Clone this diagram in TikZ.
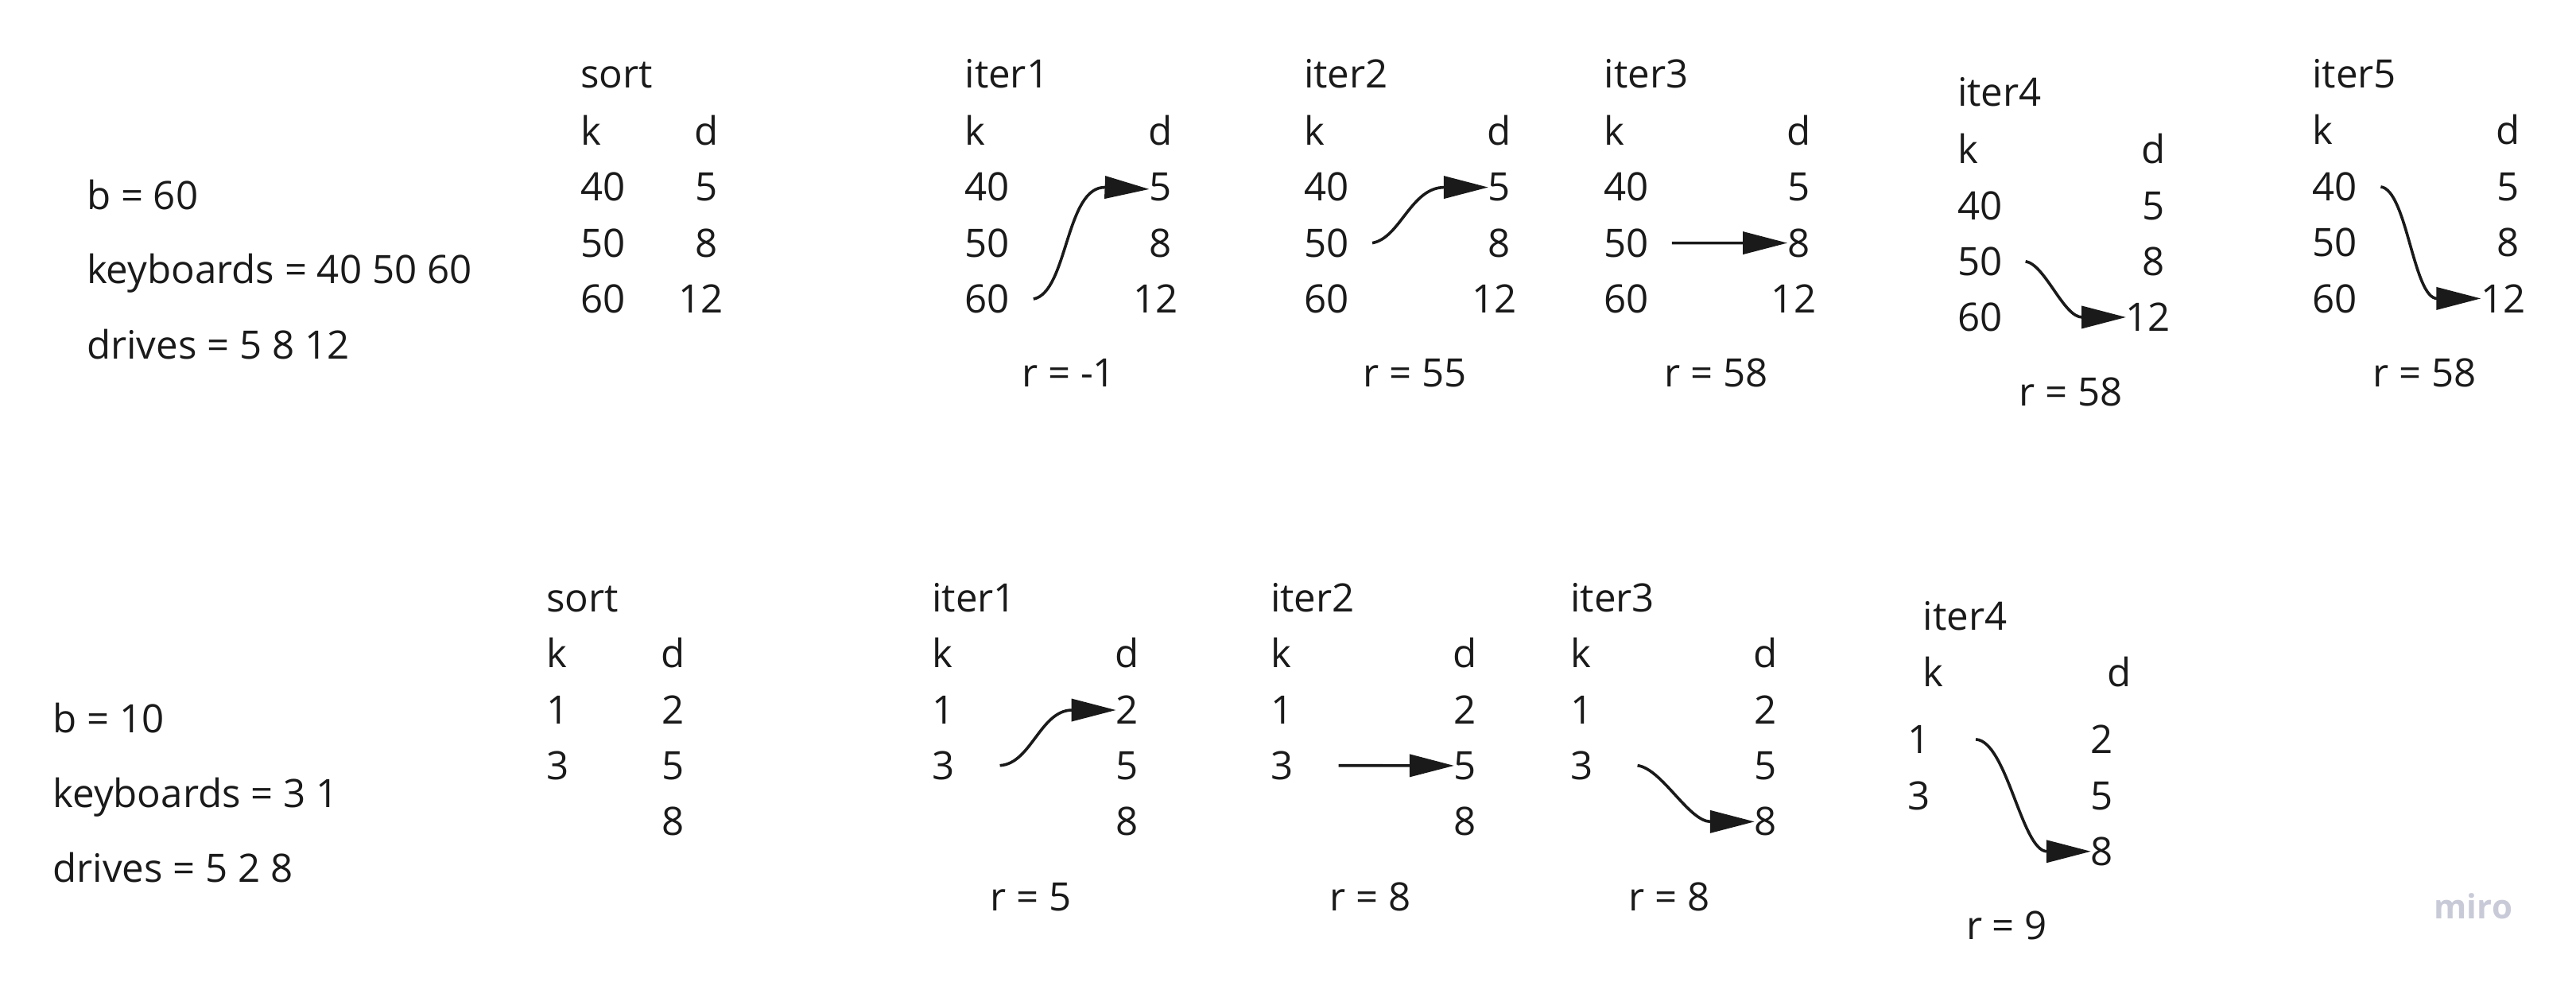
\documentclass[tikz,border=0pt]{standalone}
\usepackage{fontspec}
\setmainfont{Open Sans}
\usetikzlibrary{arrows.meta,calc}
\definecolor{txt}{RGB}{26,26,26}
\definecolor{wmark}{RGB}{201,202,216}
\begin{document}
\begin{tikzpicture}[x=0.5166pt,y=-0.5166pt,
  every node/.style={inner sep=0pt, outer sep=0pt, text=txt, font=\fontsize{12.3pt}{14pt}\selectfont},
  lt/.style={anchor=base west},
  ct/.style={anchor=base},
  conn/.style={draw=txt, line width=0.9pt, -{Triangle[length=14pt,width=7pt]}},
  ext/.style={shorten >=-14pt}]
\useasboundingbox (0,0) rectangle (1568,597.2);

% ---------- top section ----------
\node[lt] (Ab)  at (52.8,127.4) {b = 60};
\node[lt] (Akb) at (52.8,172.7) {keyboards = 40 50 60};
\node[lt] (Adr) at (52.8,218.6) {drives = 5 8 12};

% sort
\node[lt] (Ast)  at (353.3,53.6)  {sort};
\node[lt] (Ask)  at (353.3,88.2)  {k};
\node[ct] (Asd)  at (429.8,88.2)  {d};
\node[lt] (Ask1) at (353.3,122.4) {40};
\node[lt] (Ask2) at (353.3,156.4) {50};
\node[lt] (Ask3) at (353.3,190.5) {60};
\node[ct] (Asd1) at (429.8,122.4) {5};
\node[ct] (Asd2) at (429.8,156.4) {8};
\node[ct] (Asd3) at (426.8,190.5) {12};

% iter1
\node[lt] (A1t)  at (587.3,53.6)  {iter1};
\node[lt] (A1k)  at (587.3,88.2)  {k};
\node[ct] (A1d)  at (706.3,88.2)  {d};
\node[lt] (A1k1) at (587.3,122.4) {40};
\node[lt] (A1k2) at (587.3,156.4) {50};
\node[lt] (A1k3) at (587.3,190.5) {60};
\node[ct] (A1d1) at (706.3,122.4) {5};
\node[ct] (A1d2) at (706.3,156.4) {8};
\node[ct] (A1d3) at (703.3,190.5) {12};
\node[ct] (A1r)  at (650.5,235.3) {r = -1};

% iter2
\node[lt] (A2t)  at (793.7,53.6)  {iter2};
\node[lt] (A2k)  at (793.7,88.2)  {k};
\node[ct] (A2d)  at (912.6,88.2)  {d};
\node[lt] (A2k1) at (793.7,122.4) {40};
\node[lt] (A2k2) at (793.7,156.4) {50};
\node[lt] (A2k3) at (793.7,190.5) {60};
\node[ct] (A2d1) at (912.6,122.4) {5};
\node[ct] (A2d2) at (912.6,156.4) {8};
\node[ct] (A2d3) at (909.6,190.5) {12};
\node[ct] (A2r)  at (861.4,235.3) {r = 55};

% iter3
\node[lt] (A3t)  at (976.4,53.6)  {iter3};
\node[lt] (A3k)  at (976.4,88.2)  {k};
\node[ct] (A3d)  at (1094.8,88.2) {d};
\node[lt] (A3k1) at (976.4,122.4) {40};
\node[lt] (A3k2) at (976.4,156.4) {50};
\node[lt] (A3k3) at (976.4,190.5) {60};
\node[ct] (A3d1) at (1094.8,122.4) {5};
\node[ct] (A3d2) at (1094.8,156.4) {8};
\node[ct] (A3d3) at (1091.8,190.5) {12};
\node[ct] (A3r)  at (1044.5,235.3) {r = 58};

% iter4
\node[lt] (A4t)  at (1191.5,64.8)  {iter4};
\node[lt] (A4k)  at (1191.5,99.4)  {k};
\node[ct] (A4d)  at (1310.6,99.4)  {d};
\node[lt] (A4k1) at (1191.5,133.6) {40};
\node[lt] (A4k2) at (1191.5,167.6) {50};
\node[lt] (A4k3) at (1191.5,201.7) {60};
\node[ct] (A4d1) at (1310.6,133.6) {5};
\node[ct] (A4d2) at (1310.6,167.6) {8};
\node[ct] (A4d3) at (1307.6,201.7) {12};
\node[ct] (A4r)  at (1260.5,247.2) {r = 58};

% iter5
\node[lt] (A5t)  at (1407.5,53.6)  {iter5};
\node[lt] (A5k)  at (1407.5,88.0)  {k};
\node[ct] (A5d)  at (1526.6,88.0)  {d};
\node[lt] (A5k1) at (1407.5,122.2) {40};
\node[lt] (A5k2) at (1407.5,156.2) {50};
\node[lt] (A5k3) at (1407.5,190.3) {60};
\node[ct] (A5d1) at (1526.6,122.2) {5};
\node[ct] (A5d2) at (1526.6,156.2) {8};
\node[ct] (A5d3) at (1523.6,190.3) {12};
\node[ct] (A5r)  at (1476.0,235.3) {r = 58};

% top arrows
\coordinate (A1s) at ($(A1k3.east)+(14.5,0)$);
\coordinate (A1e) at ($(A1d1.west)+(-27,0)$);
\draw[conn,ext] (A1s) .. controls ($(A1s)+(21,-4)$) and ($(A1e)+(-24,-1)$) .. (A1e);

\coordinate (A2s) at ($(A2k2.east)+(14.4,0)$);
\coordinate (A2e) at ($(A2d1.west)+(-27,0)$);
\draw[conn,ext] (A2s) .. controls ($(A2s)+(17,-3)$) and ($(A2e)+(-20,0)$) .. (A2e);

\coordinate (A3s) at ($(A3k2.east)+(14.1,0)$);
\draw[conn] (A3s) -- (A3d2.west);

\coordinate (A4s) at ($(A4k2.east)+(14.2,0)$);
\coordinate (A4e) at ($(A4d3.west)+(-27,0)$);
\draw[conn,ext] (A4s) .. controls ($(A4s)+(12,2)$) and ($(A4e)+(-11,0)$) .. (A4e);

\coordinate (A5s) at ($(A5k1.east)+(14.4,0)$);
\coordinate (A5e) at ($(A5d3.west)+(-27,0)$);
\draw[conn,ext] (A5s) .. controls ($(A5s)+(16,2)$) and ($(A5e)+(-14,0)$) .. (A5e);

% ---------- bottom section ----------
\node[lt] (Bb)  at (32.2,446.0) {b = 10};
\node[lt] (Bkb) at (32.2,491.6) {keyboards = 3 1};
\node[lt] (Bdr) at (32.2,537.0) {drives = 5 2 8};

% sort
\node[lt] (Bst)  at (332.7,372.2) {sort};
\node[lt] (Bsk)  at (332.7,406.2) {k};
\node[ct] (Bsd)  at (409.8,406.2) {d};
\node[lt] (Bsk1) at (332.7,440.8) {1};
\node[lt] (Bsk2) at (332.7,474.4) {3};
\node[ct] (Bsd1) at (409.8,440.8) {2};
\node[ct] (Bsd2) at (409.8,474.4) {5};
\node[ct] (Bsd3) at (409.8,508.6) {8};

% iter1
\node[lt] (B1t)  at (567.3,372.2) {iter1};
\node[lt] (B1k)  at (567.3,406.2) {k};
\node[ct] (B1d)  at (686.0,406.2) {d};
\node[lt] (B1k1) at (567.3,440.8) {1};
\node[lt] (B1k2) at (567.3,474.4) {3};
\node[ct] (B1d1) at (686.0,440.8) {2};
\node[ct] (B1d2) at (686.0,474.4) {5};
\node[ct] (B1d3) at (686.0,508.6) {8};
\node[ct] (B1r)  at (627.4,554.2) {r = 5};

% iter2
\node[lt] (B2t)  at (773.4,372.2) {iter2};
\node[lt] (B2k)  at (773.4,406.2) {k};
\node[ct] (B2d)  at (891.9,406.2) {d};
\node[lt] (B2k1) at (773.4,440.8) {1};
\node[lt] (B2k2) at (773.4,474.4) {3};
\node[ct] (B2d1) at (891.9,440.8) {2};
\node[ct] (B2d2) at (891.9,474.4) {5};
\node[ct] (B2d3) at (891.9,508.6) {8};
\node[ct] (B2r)  at (834.2,554.2) {r = 8};

% iter3
\node[lt] (B3t)  at (956.0,372.2) {iter3};
\node[lt] (B3k)  at (956.0,406.2) {k};
\node[ct] (B3d)  at (1074.7,406.2) {d};
\node[lt] (B3k1) at (956.0,440.8) {1};
\node[lt] (B3k2) at (956.0,474.4) {3};
\node[ct] (B3d1) at (1074.7,440.8) {2};
\node[ct] (B3d2) at (1074.7,474.4) {5};
\node[ct] (B3d3) at (1074.7,508.6) {8};
\node[ct] (B3r)  at (1016.1,554.2) {r = 8};

% iter4
\node[lt] (B4t)  at (1170.6,383.5) {iter4};
\node[lt] (B4k)  at (1170.6,417.8) {k};
\node[ct] (B4d)  at (1289.9,417.8) {d};
\node[lt] (B4k1) at (1161.0,458.5) {1};
\node[lt] (B4k2) at (1161.0,493.0) {3};
\node[ct] (B4d1) at (1279.4,458.5) {2};
\node[ct] (B4d2) at (1279.4,493.0) {5};
\node[ct] (B4d3) at (1279.4,526.7) {8};
\node[ct] (B4r)  at (1221.5,571.9) {r = 9};

% bottom arrows
\coordinate (B1s) at ($(B1k2.east)+(27.7,0)$);
\coordinate (B1e) at ($(B1d1.west)+(-27,0)$);
\draw[conn,ext] (B1s) .. controls ($(B1s)+(19,-1)$) and ($(B1e)+(-19,0)$) .. (B1e);

\coordinate (B2s) at ($(B2k2.east)+(27.8,0)$);
\draw[conn] (B2s) -- (B2d2.west);

\coordinate (B3s) at ($(B3k2.east)+(27.1,0)$);
\coordinate (B3e) at ($(B3d3.west)+(-27,0)$);
\draw[conn,ext] (B3s) .. controls ($(B3s)+(15,2)$) and ($(B3e)+(-13,0)$) .. (B3e);

\coordinate (B4s) at ($(B4k1.east)+(28,0)$);
\coordinate (B4e) at ($(B4d3.west)+(-27,0)$);
\draw[conn,ext] (B4s) .. controls ($(B4s)+(19,1)$) and ($(B4e)+(-15,0)$) .. (B4e);

% watermark
\node[lt, text=wmark, font=\fontsize{10.5pt}{12pt}\selectfont\bfseries] (wm) at (1481.7,559.0) {miro};
\end{tikzpicture}
\end{document}
